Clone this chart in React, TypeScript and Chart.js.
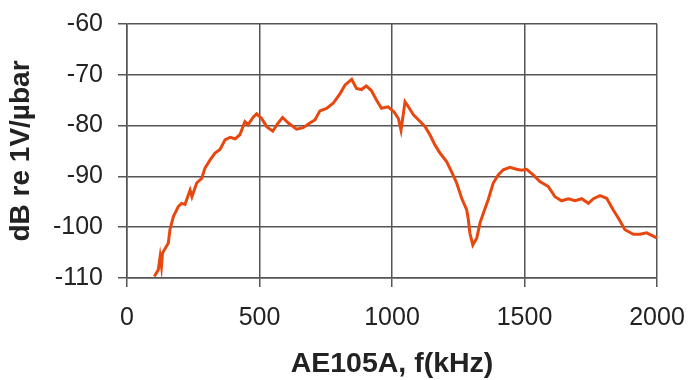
import React, { useEffect, useRef } from "react";
import { Chart, registerables } from "chart.js";

Chart.register(...registerables);

const freqKHz = [
  103, 118, 125, 130, 134, 156, 162, 175, 194, 206, 219, 238, 245, 263, 282, 294, 313, 332, 351, 370,
  389, 408, 426, 445, 457, 477, 489, 508, 527, 550, 566, 587, 609, 640, 665, 690, 709, 728, 753, 778,
  804, 823, 848, 866, 885, 903, 922, 942, 960, 985, 1008, 1024, 1034, 1043, 1049, 1062, 1081, 1106, 1125, 1143,
  1162, 1181, 1206, 1225, 1244, 1263, 1282, 1288, 1294, 1305, 1320, 1332, 1345, 1363, 1382, 1401, 1420, 1445, 1470, 1489,
  1508, 1533, 1558, 1590, 1615, 1640, 1666, 1691, 1716, 1741, 1760, 1785, 1810, 1835, 1854, 1879, 1911, 1936, 1961, 1999,
];
const levelDb = [
  -109.7, -108.4, -105.8, -107.7, -105.1, -103.1, -100.5, -97.9, -95.9, -95.3, -95.5, -92.7, -94.0, -91.3, -90.4, -88.4, -86.8, -85.4, -84.7, -82.8,
  -82.3, -82.6, -81.8, -79.2, -79.8, -78.3, -77.7, -78.6, -80.2, -81.1, -79.8, -78.4, -79.5, -80.7, -80.4, -79.5, -78.9, -77.1, -76.6, -75.6,
  -73.7, -72.0, -70.9, -72.7, -72.9, -72.2, -73.1, -75.0, -76.6, -76.3, -77.3, -78.6, -80.9, -77.6, -75.3, -76.3, -77.9, -79.2, -80.2, -81.8,
  -83.8, -85.4, -87.1, -89.1, -91.3, -94.3, -96.6, -98.5, -101.2, -103.5, -102.1, -99.2, -97.2, -94.6, -91.3, -89.7, -88.7, -88.2, -88.6, -88.8,
  -88.6, -89.7, -91.0, -92.0, -94.0, -94.8, -94.4, -94.8, -94.4, -95.3, -94.4, -93.8, -94.3, -96.6, -98.2, -100.5, -101.4, -101.4, -101.1, -102.1,
];

const xTitle = "AE105A, f(kHz)";
const yTitle = "dB re 1V/µbar";

const FONT = "'Liberation Sans', Arial, sans-serif";
const GRID = "#555555";

export default function App() {
  const ref = useRef<HTMLCanvasElement>(null);
  useEffect(() => {
    if (!ref.current) return;
    const chart = new Chart(ref.current, {
      type: "line",
      data: {
        datasets: [
          {
            data: freqKHz.map((x, i) => ({ x, y: levelDb[i] })),
            borderColor: "#E8480F",
            borderWidth: 3,
            pointRadius: 0,
            tension: 0,
            fill: false,
          },
        ],
      },
      options: {
        responsive: false,
        animation: false,
        layout: { padding: { top: 24, right: 32, bottom: 0, left: 0 } },
        plugins: { legend: { display: false }, tooltip: { enabled: false } },
        scales: {
          x: {
            type: "linear",
            min: 0,
            max: 2000,
            ticks: {
              stepSize: 500,
              color: "#222",
              font: { family: FONT, size: 25 },
              padding: 16,
              maxRotation: 0,
              callback: (v: any) => String(v),
            },
            grid: { color: GRID, lineWidth: 1.5, tickLength: 9 },
            border: { color: GRID, width: 1.5 },
            title: {
              display: true,
              text: xTitle,
              color: "#222",
              font: { family: FONT, size: 28.5, weight: "bold" },
              padding: { top: 0, bottom: -1 },
            },
            afterFit: (s: any) => {
              s.height = 102;
              s.paddingLeft = 0;
              s.paddingRight = 0;
            },
          },
          y: {
            min: -110,
            max: -60,
            ticks: { stepSize: 10, color: "#222", font: { family: FONT, size: 25 }, padding: 15 },
            grid: { color: GRID, lineWidth: 1.5, tickLength: 9 },
            border: { color: GRID, width: 1.5 },
            title: {
              display: true,
              text: yTitle,
              color: "#222",
              font: { family: FONT, size: 28, weight: "bold" },
              padding: { top: 4, bottom: 0 },
            },
            afterFit: (s: any) => {
              s.width = 127;
              s.paddingTop = 0;
              s.paddingBottom = 0;
            },
          },
        },
      },
    });
    return () => chart.destroy();
  }, []);
  return (
    <div style={{ position: "fixed", left: 0, top: 0, width: 689, height: 380, background: "#fff" }}>
      <canvas ref={ref} width={689} height={380} />
    </div>
  );
}
